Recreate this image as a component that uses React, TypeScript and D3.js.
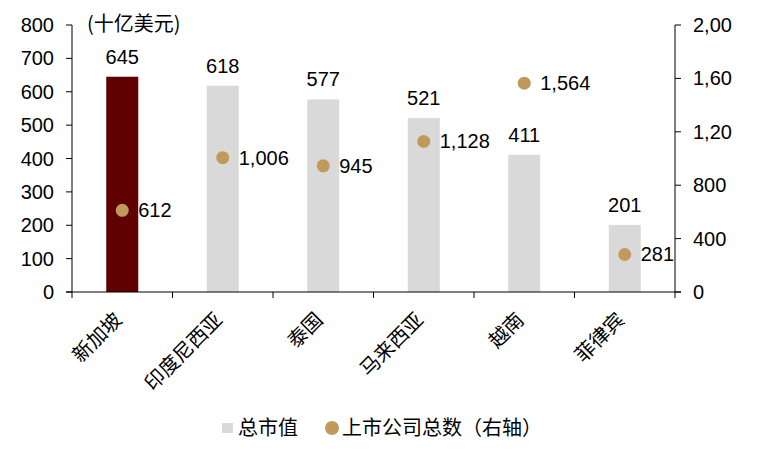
import React from 'react';
import * as d3 from 'd3';

const categories = ['新加坡', '印度尼西亚', '泰国', '马来西亚', '越南', '菲律宾'];
const marketCap = [645, 618, 577, 521, 411, 201];
const listedCount = [612, 1006, 945, 1128, 1564, 281];
const leftTicks = [0, 100, 200, 300, 400, 500, 600, 700, 800];
const rightTicks = [0, 400, 800, 1200, 1600, 2000];
const rightTickLabels = ['0', '400', '800', '1,20', '1,60', '2,00'];

const width = 757;
const height = 456;
const margin = { left: 72, right: 82, top: 25, bottom: 164 };
const font = '"Liberation Sans", Arial, "Noto Sans CJK SC", sans-serif';
const cjk = '"Noto Sans CJK SC", sans-serif';

const App: React.FC = () => {
  const x = d3
    .scaleBand<string>()
    .domain(categories)
    .range([margin.left, width - margin.right]);
  const yL = d3.scaleLinear().domain([0, 800]).range([height - margin.bottom, margin.top]);
  const yR = d3.scaleLinear().domain([0, 2000]).range([height - margin.bottom, margin.top]);
  const y0 = yL(0);
  const barW = 32;
  const xr = width - margin.right;

  return (
    <svg width={width} height={height} style={{ position: 'absolute', left: 0, top: 0 }} fontFamily={font}>
      <rect width={width} height={height} fill="#fff" />
      {/* bars */}
      {categories.map((c, i) => {
        const cx = x(c)! + x.bandwidth() / 2;
        return (
          <g key={c}>
            <rect
              x={cx - barW / 2}
              y={yL(marketCap[i])}
              width={barW}
              height={y0 - yL(marketCap[i])}
              fill={i === 0 ? '#600000' : '#D9D9D9'}
            />
            <text x={cx} y={yL(marketCap[i]) - 13} textAnchor="middle" fontSize={20} fill="#000">
              {marketCap[i]}
            </text>
          </g>
        );
      })}
      {/* dots */}
      {categories.map((c, i) => {
        const cx = x(c)! + x.bandwidth() / 2;
        return (
          <g key={c + 'd'}>
            <circle cx={cx} cy={yR(listedCount[i])} r={6.5} fill="#C09A5B" />
            <text x={cx + 16} y={yR(listedCount[i]) + 7} fontSize={20} fill="#000">
              {d3.format(',')(listedCount[i])}
            </text>
          </g>
        );
      })}
      {/* left axis */}
      <line x1={margin.left} x2={margin.left} y1={margin.top} y2={y0} stroke="#000" />
      {leftTicks.map((t) => (
        <g key={'l' + t}>
          <line x1={margin.left - 6} x2={margin.left} y1={yL(t)} y2={yL(t)} stroke="#000" />
          <text x={margin.left - 18} y={yL(t) + 7} textAnchor="end" fontSize={20}>
            {t}
          </text>
        </g>
      ))}
      {/* right axis */}
      <line x1={xr} x2={xr} y1={margin.top} y2={y0} stroke="#000" />
      {rightTicks.map((t, i) => (
        <g key={'r' + t}>
          <line x1={xr} x2={xr + 6} y1={yR(t)} y2={yR(t)} stroke="#000" />
          <text x={xr + 18} y={yR(t) + 7} fontSize={20}>
            {rightTickLabels[i]}
          </text>
        </g>
      ))}
      {/* bottom axis */}
      <line x1={margin.left - 6} x2={xr + 6} y1={y0} y2={y0} stroke="#000" />
      {categories.map((c) => (
        <line key={'t' + c} x1={x(c)!} x2={x(c)!} y1={y0} y2={y0 + 6} stroke="#000" />
      ))}
      <line x1={xr} x2={xr} y1={y0} y2={y0 + 6} stroke="#000" />
      {categories.map((c) => {
        const cx = x(c)! + x.bandwidth() / 2;
        return (
          <text
            key={'x' + c}
            transform={`translate(${cx + 1},${y0 + 29}) rotate(-45)`}
            textAnchor="end"
            fontSize={20}
            fontFamily={cjk}
          >
            {c}
          </text>
        );
      })}
      <text x={87} y={31} fontSize={20} fontFamily={cjk}>
        (十亿美元)
      </text>
      {/* legend */}
      <rect x={222} y={423} width={11} height={10} fill="#D9D9D9" />
      <text x={238} y={435} fontSize={20} fontFamily={cjk}>
        总市值
      </text>
      <circle cx={332} cy={428} r={7} fill="#C09A5B" />
      <text x={342} y={435} fontSize={20} fontFamily={cjk}>
        上市公司总数（右轴）
      </text>
    </svg>
  );
};

export default App;
